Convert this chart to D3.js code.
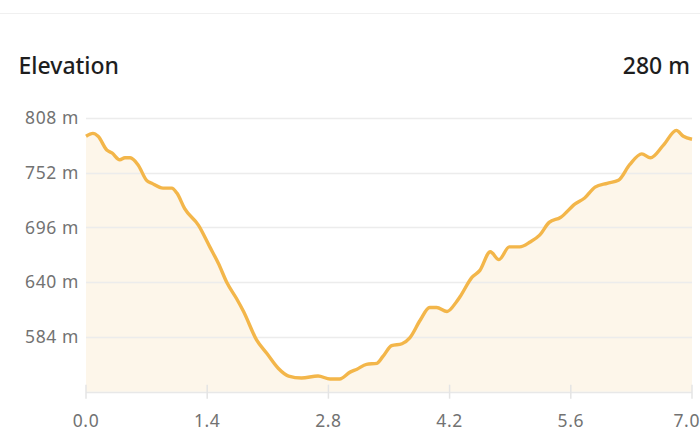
<!DOCTYPE html>
<html>
<head>
<meta charset="utf-8">
<script src="https://cdn.jsdelivr.net/npm/d3@7"></script>
<style>
  body { margin: 0; background: #fff; font-family: "Noto Sans", sans-serif; }
</style>
</head>
<body>
<script>
// Data: distance (km) and elevation (m)
const distance = [0, 0.08, 0.14, 0.24, 0.30, 0.39, 0.45, 0.51, 0.60, 0.70, 0.76, 0.89, 0.99, 1.05, 1.14, 1.30,
  1.43, 1.53, 1.63, 1.74, 1.82, 1.97, 2.09, 2.22, 2.34, 2.49, 2.68, 2.82, 2.93, 3.05, 3.13, 3.24, 3.36,
  3.43, 3.53, 3.65, 3.74, 3.86, 3.97, 4.05, 4.17, 4.28, 4.32, 4.46, 4.55, 4.67, 4.77, 4.89, 5.01, 5.13,
  5.24, 5.35, 5.48, 5.65, 5.76, 5.88, 6.02, 6.15, 6.28, 6.42, 6.52, 6.67, 6.82, 6.90, 7.0]
const elevation = [789, 792, 789, 775, 772, 765, 767, 767, 760, 744, 741, 736, 736, 731, 715, 698,
  676, 659, 639, 623, 610, 581, 567, 552, 544, 542, 544, 541, 541, 548, 551, 556, 557,
  564, 575, 577, 583, 601, 614, 614, 610, 620, 625, 645, 652, 671, 663, 676, 676, 681,
  688, 701, 706, 720, 726, 737, 741, 744, 760, 771, 767, 780, 795, 789, 786]
const yTicks = [584, 640, 696, 752, 808]
const xTicks = [0, 1.4, 2.8, 4.2, 5.6, 7.0]
const title = 'Elevation'
const gain = '280 m'

const width = 700, height = 443
const margin = { top: 118, right: 8, bottom: 51, left: 86 }

const svg = d3.select('body').append('svg')
  .attr('width', width)
  .attr('height', height)

// top divider
svg.append('line')
  .attr('x1', 0).attr('x2', width)
  .attr('y1', 13.5).attr('y2', 13.5)
  .attr('stroke', '#f0f0f0').attr('stroke-width', 1)

svg.append('text')
  .attr('x', 18.5).attr('y', 73.5)
  .attr('font-size', 23).attr('font-weight', 500).attr('fill', '#1e1e1e')
  .text(title)
svg.append('text')
  .attr('x', 690).attr('y', 73.5)
  .attr('text-anchor', 'end')
  .attr('font-size', 23).attr('font-weight', 500).attr('fill', '#1e1e1e')
  .text(gain)

const x = d3.scaleLinear()
  .domain([0, 7])
  .range([margin.left, width - margin.right])

const y = d3.scaleLinear()
  .domain([528, 808])
  .range([height - margin.bottom - 0.3, margin.top - 0.3])

const data = distance.map((d, i) => ({ d, e: elevation[i] }))

// fill under the line
svg.append('path')
  .datum(data)
  .attr('fill', '#fdf6ea')
  .attr('d', d3.area()
    .x(p => x(p.d))
    .y0(y(528))
    .y1(p => y(p.e))
    .curve(d3.curveMonotoneX))

// gridlines
svg.append('g')
  .selectAll('line')
  .data(yTicks.concat([528]))
  .join('line')
    .attr('x1', x(0)).attr('x2', x(7))
    .attr('y1', d => Math.round(y(d)) + 0.5)
    .attr('y2', d => Math.round(y(d)) + 0.5)
    .attr('stroke', d => d === 528 ? '#e8e8e8' : '#ececec')
    .attr('stroke-width', d => d === 528 ? 1.5 : 1.3)

// x ticks
svg.append('g')
  .selectAll('line')
  .data(xTicks)
  .join('line')
    .attr('x1', d => x(d)).attr('x2', d => x(d))
    .attr('y1', y(528) - 7).attr('y2', y(528) + 7)
    .attr('stroke', '#e4e4e4').attr('stroke-width', 1.5)

// y labels
svg.append('g')
  .selectAll('text')
  .data(yTicks)
  .join('text')
    .attr('x', 79)
    .attr('y', d => y(d))
    .attr('dy', '0.36em')
    .attr('text-anchor', 'end')
    .attr('font-size', 17.5)
    .attr('letter-spacing', 0.6)
    .attr('fill', '#727272')
    .text(d => d + ' m')

// x labels
svg.append('g')
  .selectAll('text')
  .data(xTicks)
  .join('text')
    .attr('x', d => x(d))
    .attr('y', 426.5)
    .attr('text-anchor', d => d === 7 ? 'end' : 'middle')
    .attr('dx', d => d === 7 ? 8 : 0)
    .attr('font-size', 17.5)
    .attr('letter-spacing', 0.6)
    .attr('fill', '#727272')
    .text(d => d.toFixed(1))

// profile line
svg.append('path')
  .datum(data)
  .attr('fill', 'none')
  .attr('stroke', '#f3b64a')
  .attr('stroke-width', 3.4)
  .attr('stroke-linejoin', 'round')
  .attr('d', d3.line()
    .x(p => x(p.d))
    .y(p => y(p.e))
    .curve(d3.curveMonotoneX))
</script>
</body>
</html>
